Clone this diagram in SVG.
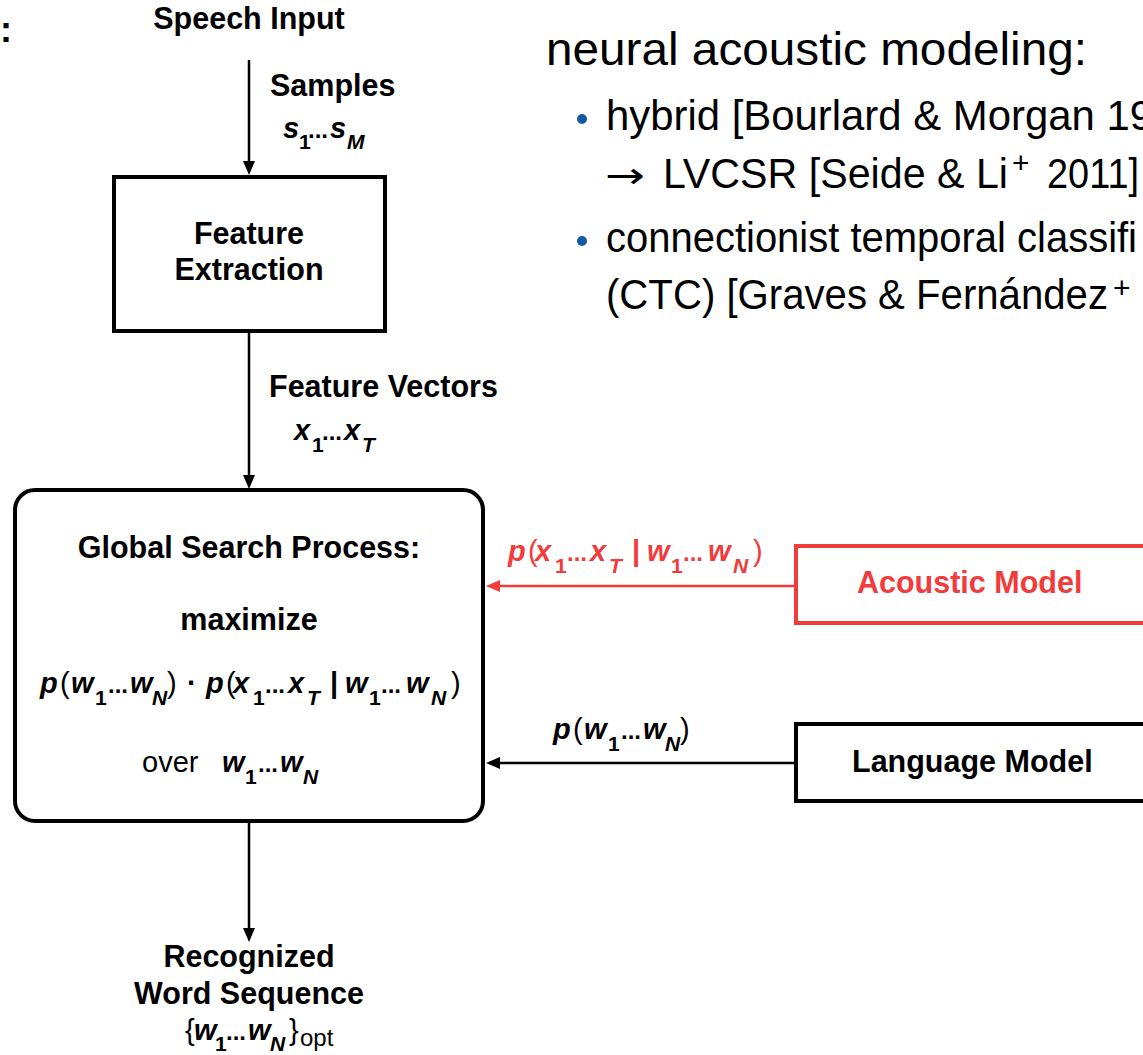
<svg xmlns="http://www.w3.org/2000/svg" xmlns:xlink="http://www.w3.org/1999/xlink" width="1143" height="1055" viewBox="0 0 1143 1055">
  <style>
    text { font-family: "Liberation Sans", Arial, Helvetica, sans-serif; }
    .lbl { font-weight: bold; font-size: 30.5px; }
    .mid { text-anchor: middle; }
    .bi { font-weight: bold; font-style: italic; font-size: 29px; }
    .sub { font-weight: bold; font-size: 21px; }
    .subi { font-weight: bold; font-style: italic; font-size: 21px; }
    .dots { font-weight: bold; font-size: 24px; }
    .par { font-weight: normal; font-size: 29px; }
    .reg { font-weight: normal; font-size: 29px; }
    .box { fill: #ffffff; stroke: #000000; stroke-width: 4; }
    .red-box { fill: #ffffff; stroke: #f23b3b; stroke-width: 4; }
    .red { fill: #f23b3b; }
    .conn { fill: none; stroke: #000000; stroke-width: 2.5; marker-end: url(#arrow); }
    .conn-red { fill: none; stroke: #f23b3b; stroke-width: 2.5; marker-end: url(#arrow-red); }
    .slide { font-size: 43px; fill: #000000; }
    .sup { font-size: 30px; fill: #000000; }
    .bullet { fill: #1558a6; }
  </style>
  <defs>
    <marker id="arrow" markerUnits="userSpaceOnUse" markerWidth="14" markerHeight="12" refX="4" refY="6" orient="auto">
      <path d="M0,0 L14,6 L0,12 z" fill="#000000"/>
    </marker>
    <marker id="arrow-red" markerUnits="userSpaceOnUse" markerWidth="14" markerHeight="12" refX="4" refY="6" orient="auto">
      <path d="M0,0 L14,6 L0,12 z" fill="#f23b3b"/>
    </marker>
    <!-- p(w1...wN), origin at start of p on the baseline -->
    <g id="p-w">
      <text class="bi" x="0" y="0">p</text>
      <text class="par" x="20" y="0">(</text>
      <text class="bi" x="31" y="0">w</text>
      <text class="sub" x="55" y="12">1</text>
      <text class="dots" x="68" y="0">...</text>
      <text class="bi" x="90" y="0">w</text>
      <text class="subi" x="112" y="12">N</text>
      <text class="par" x="127" y="0">)</text>
    </g>
    <!-- p(x1...xT | w1...wN) -->
    <g id="p-x-w">
      <text class="bi" x="0" y="0">p</text>
      <text class="par" x="20" y="0">(</text>
      <text class="bi" x="27" y="0">x</text>
      <text class="sub" x="47" y="12">1</text>
      <text class="dots" x="59" y="0">...</text>
      <text class="bi" x="82" y="0">x</text>
      <text class="subi" x="101" y="12">T</text>
      <text class="lbl" x="124" y="0" style="font-size:29px">|</text>
      <text class="bi" x="139" y="0">w</text>
      <text class="sub" x="163" y="12">1</text>
      <text class="dots" x="175" y="0">...</text>
      <text class="bi" x="200" y="0">w</text>
      <text class="subi" x="225" y="12">N</text>
      <text class="par" x="245" y="0">)</text>
    </g>
  </defs>

  <rect width="1143" height="1055" fill="#ffffff"/>

  <!-- stray colon at the top-left corner -->
  <text x="0" y="42" style="font-weight:bold;font-size:36px">:</text>

  <!-- slide text on the right -->
  <g id="slide-text">
    <text class="slide" x="546" y="65" textLength="541" lengthAdjust="spacingAndGlyphs" style="font-size:47px">neural acoustic modeling:</text>
    <circle class="bullet" cx="582" cy="119" r="5"/>
    <text class="slide" x="606" y="130" textLength="547" lengthAdjust="spacingAndGlyphs">hybrid [Bourlard &amp; Morgan 19</text>
    <text class="slide" x="605" y="188" textLength="40" lengthAdjust="spacingAndGlyphs" style="font-family:'DejaVu Sans',sans-serif;font-size:36px">→</text>
    <text class="slide" x="663" y="188" textLength="345" lengthAdjust="spacingAndGlyphs">LVCSR [Seide &amp; Li</text>
    <text class="sup" x="1012" y="173">+</text>
    <text class="slide" x="1047" y="188" textLength="92" lengthAdjust="spacingAndGlyphs">2011]</text>
    <circle class="bullet" cx="582" cy="241" r="5"/>
    <text class="slide" x="606" y="252" textLength="531" lengthAdjust="spacingAndGlyphs">connectionist temporal classifi</text>
    <text class="slide" x="606" y="309" textLength="502" lengthAdjust="spacingAndGlyphs">(CTC) [Graves &amp; Fernández</text>
    <text class="sup" x="1113" y="298">+</text>
  </g>

  <!-- connectors -->
  <g id="connectors">
    <path class="conn" d="M249,60 V165"/>
    <path class="conn" d="M249,333 V479"/>
    <path class="conn" d="M249,822 V932"/>
    <path class="conn-red" d="M796,586 H496"/>
    <path class="conn" d="M796,763 H496"/>
  </g>

  <!-- edge labels -->
  <g id="label-samples">
    <text class="lbl" x="270" y="96">Samples</text>
    <text class="bi" x="283" y="138">s</text>
    <text class="sub" x="299" y="149">1</text>
    <text class="dots" x="308" y="138">...</text>
    <text class="bi" x="330" y="138">s</text>
    <text class="subi" x="347" y="149">M</text>
  </g>
  <g id="label-features">
    <text class="lbl" x="269" y="397">Feature Vectors</text>
    <text class="bi" x="294" y="440">x</text>
    <text class="sub" x="312" y="452">1</text>
    <text class="dots" x="322" y="440">...</text>
    <text class="bi" x="344" y="440">x</text>
    <text class="subi" x="362" y="452">T</text>
  </g>
  <g id="label-acoustic" class="red">
    <use xlink:href="#p-x-w" href="#p-x-w" transform="translate(508,561)"/>
  </g>
  <g id="label-language">
    <use xlink:href="#p-w" href="#p-w" transform="translate(553,739)"/>
  </g>

  <!-- nodes -->
  <g id="speech-input">
    <text class="lbl mid" x="249" y="29">Speech Input</text>
  </g>

  <g id="feature-extraction">
    <rect class="box" x="114" y="177" width="271" height="154"/>
    <text class="lbl mid" x="249" y="244">Feature</text>
    <text class="lbl mid" x="249" y="280">Extraction</text>
  </g>

  <g id="global-search">
    <rect class="box" x="15" y="490" width="468" height="331" rx="20" ry="20"/>
    <text class="lbl mid" x="249" y="558">Global Search Process:</text>
    <text class="lbl mid" x="249" y="630">maximize</text>
    <use xlink:href="#p-w" href="#p-w" transform="translate(40,693)"/>
    <text class="lbl" x="187" y="693" style="font-size:29px">·</text>
    <use xlink:href="#p-x-w" href="#p-x-w" transform="translate(206,693)"/>
    <text class="reg" x="142" y="772">over</text>
    <text class="bi" x="222" y="772">w</text>
    <text class="sub" x="245" y="784">1</text>
    <text class="dots" x="258" y="772">...</text>
    <text class="bi" x="280" y="772">w</text>
    <text class="subi" x="303" y="784">N</text>
  </g>

  <g id="acoustic-model">
    <rect class="red-box" x="796" y="546" width="420" height="77"/>
    <text class="lbl red" x="857" y="593">Acoustic Model</text>
  </g>

  <g id="language-model">
    <rect class="box" x="796" y="724" width="420" height="77"/>
    <text class="lbl" x="852" y="772">Language Model</text>
  </g>

  <g id="recognized-sequence">
    <text class="lbl mid" x="249" y="967">Recognized</text>
    <text class="lbl mid" x="249" y="1004">Word Sequence</text>
    <text class="par" x="185" y="1040">{</text>
    <text class="bi" x="194" y="1040">w</text>
    <text class="sub" x="215" y="1051">1</text>
    <text class="dots" x="226" y="1040">...</text>
    <text class="bi" x="248" y="1040">w</text>
    <text class="subi" x="270" y="1051">N</text>
    <text class="par" x="289" y="1040">}</text>
    <text class="reg" x="300" y="1046" style="font-size:24px">opt</text>
  </g>
</svg>
